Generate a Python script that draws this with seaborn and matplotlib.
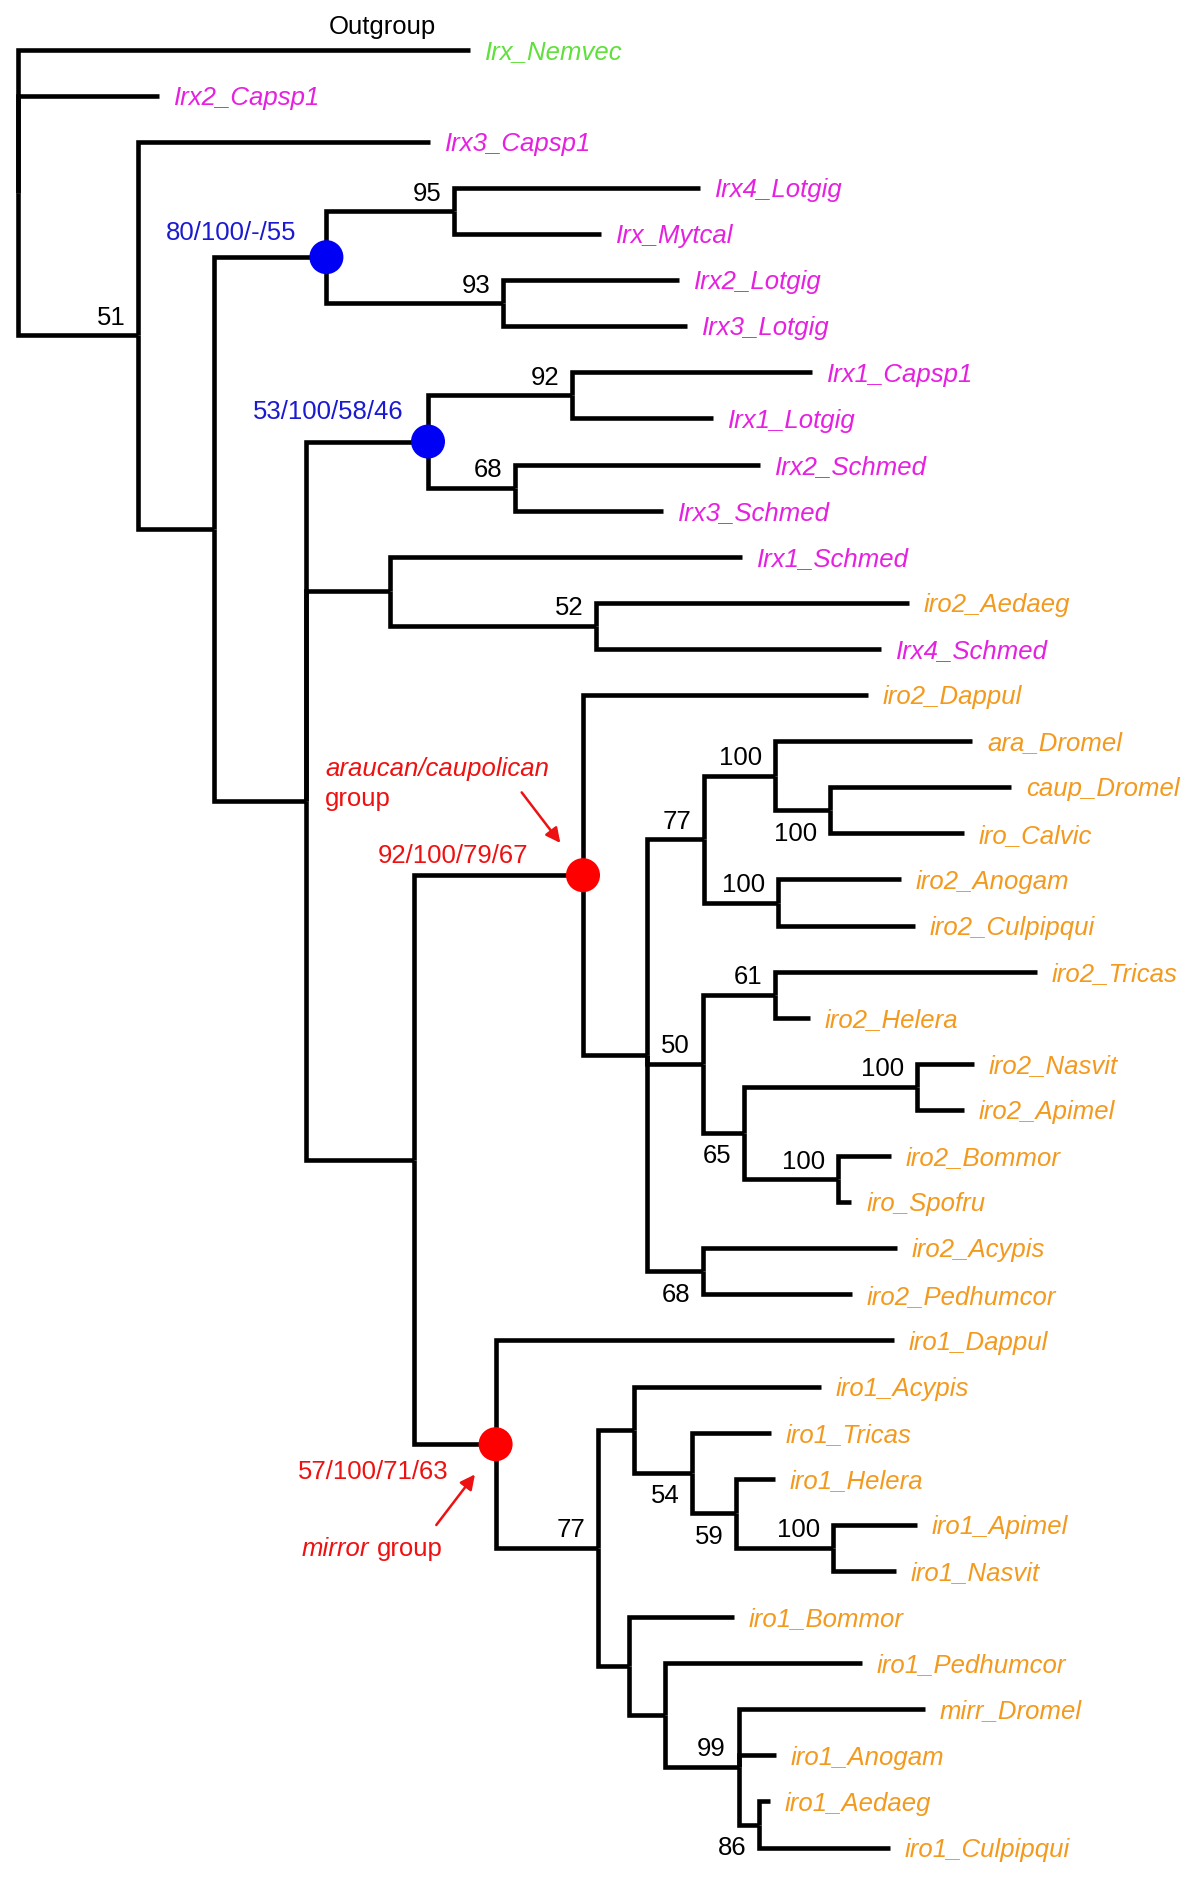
import matplotlib.pyplot as plt
import pandas as pd
import seaborn as sns

# leaves, top to bottom
leaf_names = [
    'Irx_Nemvec', 'Irx2_Capsp1', 'Irx3_Capsp1', 'Irx4_Lotgig', 'Irx_Mytcal',
    'Irx2_Lotgig', 'Irx3_Lotgig', 'Irx1_Capsp1', 'Irx1_Lotgig', 'Irx2_Schmed',
    'Irx3_Schmed', 'Irx1_Schmed', 'iro2_Aedaeg', 'Irx4_Schmed', 'iro2_Dappul',
    'ara_Dromel', 'caup_Dromel', 'iro_Calvic', 'iro2_Anogam', 'iro2_Culpipqui',
    'iro2_Tricas', 'iro2_Helera', 'iro2_Nasvit', 'iro2_Apimel', 'iro2_Bommor',
    'iro_Spofru', 'iro2_Acypis', 'iro2_Pedhumcor', 'iro1_Dappul', 'iro1_Acypis',
    'iro1_Tricas', 'iro1_Helera', 'iro1_Apimel', 'iro1_Nasvit', 'iro1_Bommor',
    'iro1_Pedhumcor', 'mirr_Dromel', 'iro1_Anogam', 'iro1_Aedaeg', 'iro1_Culpipqui',
]
leaf_clade = (['cnidaria'] + ['irx'] * 11 + ['iro', 'irx'] + ['iro'] * 26)
leaf_tip = [
    470, 159, 430, 700, 601, 679, 686.5, 812, 713, 760,
    663, 741.6, 909, 880.5, 868, 972, 1011, 963.5, 901, 914.6,
    1037, 809.7, 974, 963.6, 891, 851.4, 896.6, 851.8, 894, 820.8,
    771, 775, 917, 895.8, 734, 862, 925, 776, 769.5, 889.7,
]

# internal nodes (children are leaf indices or node names)
node_names = ['root', 'n51', 'nA', 'nB', 'n95', 'n93', 'nC', 'nD', 'n92', 'n68a',
              'nE', 'n52', 'nF', 'nG', 'nH', 'n77a', 'n100a', 'n100b', 'n100c',
              'n50', 'n61', 'n65', 'n100d', 'n100e', 'n68b', 'nM', 'n77b', 'nP',
              'n54', 'n59', 'n100f', 'nQ', 'nR', 'n99', 'n86']
node_x = [18, 138, 213.5, 326.4, 453.5, 503, 306, 428, 572, 515,
          390, 596, 414, 583, 647, 704, 775, 830, 778,
          702.6, 775, 743.5, 917, 838, 702.6, 495.6, 597.6, 634.4,
          691.8, 735.9, 832.7, 628.7, 665, 738.5, 758.8]
node_kids = [[0, 1, 'n51'], [2, 'nA'], ['nB', 'nC'], ['n95', 'n93'], [3, 4], [5, 6],
             ['nD', 'nE', 'nF'], ['n92', 'n68a'], [7, 8], [9, 10],
             [11, 'n52'], [12, 13], ['nG', 'nM'], [14, 'nH'], ['n77a', 'n50', 'n68b'],
             ['n100a', 'n100c'], [15, 'n100b'], [16, 17], [18, 19],
             ['n61', 'n65'], [20, 21], ['n100d', 'n100e'], [22, 23], [24, 25], [26, 27],
             [28, 'n77b'], ['nP', 'nQ'], [29, 'n54'],
             [30, 'n59'], [31, 'n100f'], [32, 33], [34, 'nR'], [35, 'n99'],
             [36, 37, 'n86'], [38, 39]]
node_support = ['', '51', '', '', '95', '93', '', '', '92', '68',
                '', '52', '', '', '', '77', '100', '100', '100',
                '50', '61', '65', '100', '100', '68', '', '77', '',
                '54', '59', '100', '', '', '99', '86']
support_below = ['n100b', 'n65', 'n68b', 'n54', 'n59', 'n86']

# highlighted nodes
key_nodes = ['nB', 'nD', 'nG', 'nM']
key_labels = ['80/100/-/55', '53/100/58/46', '92/100/79/67', '57/100/71/63']
key_colour = ['blue', 'blue', 'red', 'red']

clade_colours = {'cnidaria': '#5fe03a', 'irx': '#e620e0', 'iro': '#f39a1e'}
dot_colours = {'blue': '#0000f5', 'red': '#ff0000'}
text_colours = {'blue': '#1a1ad0', 'red': '#ee1111'}

# layout: leaf i sits at pixel row Y0 + DY * i
Y0, DY = 49.7, 46.1
W, H = 1200, 1882

pos = {i: (leaf_tip[i], float(i)) for i in range(len(leaf_names))}
kids_of = dict(zip(node_names, node_kids))
x_of = dict(zip(node_names, node_x))


def place(name):
    ys = [place(k)[1] if isinstance(k, str) else pos[k][1] for k in kids_of[name]]
    pos[name] = (x_of[name], (ys[0] + ys[-1]) / 2)
    return pos[name]


place('root')

rows = []
for name in node_names:
    px, py = pos[name]
    for k in kids_of[name]:
        cx, cy = pos[k]
        seg = f'{name}-{k}'
        rows += [(seg, px, py), (seg, px, cy), (seg, cx, cy)]
segments = pd.DataFrame(rows, columns=['seg', 'x', 'y'])

sns.set_style('white')
plt.rcParams['font.family'] = ['Liberation Sans', 'DejaVu Sans']
FS = 18.5

fig = plt.figure(figsize=(W / 100, H / 100), dpi=100)
ax = fig.add_axes([0, 0, 1, 1])
ax.set_xlim(0, W)
ax.set_ylim((H - Y0) / DY, -Y0 / DY)
ax.axis('off')

sns.lineplot(data=segments, x='x', y='y', units='seg', estimator=None, sort=False,
             color='black', linewidth=3.3, solid_joinstyle='miter',
             solid_capstyle='butt', legend=False, ax=ax)

dots = pd.DataFrame({'x': [pos[n][0] for n in key_nodes],
                     'y': [pos[n][1] for n in key_nodes],
                     'c': key_colour})
sns.scatterplot(data=dots, x='x', y='y', hue='c', palette=dot_colours, s=600,
                linewidth=0, legend=False, zorder=5, ax=ax)

cap = FS * 100 / 72 * 0.716 / DY  # cap height in row units

for i, name in enumerate(leaf_names):
    ax.text(leaf_tip[i] + 15, i + cap / 2, name, fontsize=FS, style='italic',
            color=clade_colours[leaf_clade[i]], va='baseline', ha='left')

for name, s in zip(node_names, node_support):
    if not s:
        continue
    x, y = pos[name]
    if name in support_below:
        yb = y + (12 / DY) + cap
    else:
        yb = y - 10.5 / DY
    ax.text(x - 12.5, yb, s, fontsize=FS, ha='right', va='baseline', color='black')

key_offsets = {'nB': (-30, -17), 'nD': (-24, -22.5), 'nG': (-55, -12), 'nM': (-47, 35)}
for n, lab, c in zip(key_nodes, key_labels, key_colour):
    x, y = pos[n]
    dx, dy = key_offsets[n]
    ax.text(x + dx, y + dy / DY, lab, fontsize=FS, ha='right', va='baseline',
            color=text_colours[c])

red = text_colours['red']
gx, gy = pos['nG']
ax.text(gx - 258, gy - 99 / DY, 'araucan/caupolican', fontsize=FS, style='italic',
        color=red, va='baseline')
ax.text(gx - 258, gy - 69 / DY, 'group', fontsize=FS, color=red, va='baseline')
ax.annotate('', xy=(gx - 21, gy - 30 / DY), xytext=(gx - 63, gy - 85 / DY),
            arrowprops=dict(arrowstyle='-|>', color=red, lw=1.8, mutation_scale=22))

mx, my = pos['nM']
ax.text(mx - 194, my + 112 / DY, 'mirror', fontsize=FS, style='italic',
        color=red, va='baseline')
ax.text(mx - 118.6, my + 112 / DY, 'group', fontsize=FS, color=red, va='baseline')
ax.annotate('', xy=(mx - 19, my + 28 / DY), xytext=(mx - 61, my + 83 / DY),
            arrowprops=dict(arrowstyle='-|>', color=red, lw=1.8, mutation_scale=22))

ax.text(leaf_tip[0] - 88, -16 / DY, 'Outgroup', fontsize=FS, ha='center',
        va='baseline', color='black')

plt.savefig('out.png', dpi=100)
plt.close()
